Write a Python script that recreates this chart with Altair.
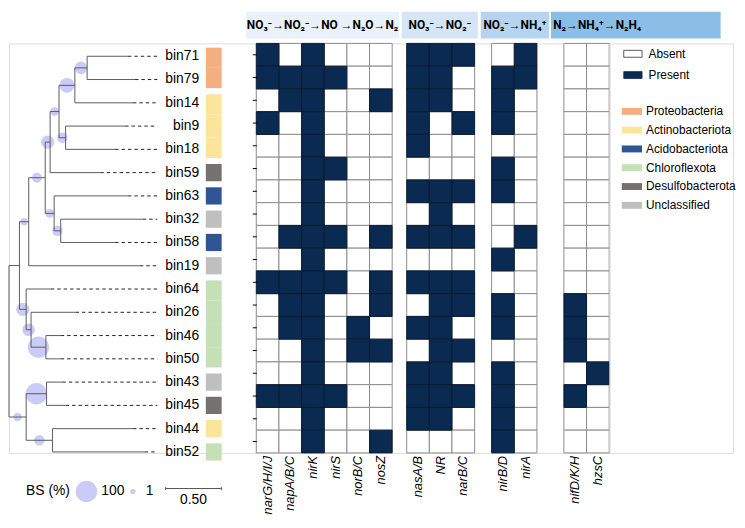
import altair as alt
import pandas as pd

# ---------------- data ----------------
bins = ["bin71", "bin79", "bin14", "bin9", "bin18", "bin59", "bin63", "bin32", "bin58",
        "bin19", "bin64", "bin26", "bin46", "bin50", "bin43", "bin45", "bin44", "bin52"]
bin_phylum = ["Proteobacteria", "Proteobacteria", "Actinobacteriota", "Actinobacteriota",
              "Actinobacteriota", "Desulfobacterota", "Acidobacteriota", "Unclassified",
              "Acidobacteriota", "Unclassified", "Chloroflexota", "Chloroflexota",
              "Chloroflexota", "Chloroflexota", "Unclassified", "Desulfobacterota",
              "Actinobacteriota", "Chloroflexota"]
phyla = ["Proteobacteria", "Actinobacteriota", "Acidobacteriota", "Chloroflexota",
         "Desulfobacterota", "Unclassified"]
phyla_colors = ["#f5ae80", "#fde49b", "#2f5597", "#c5e0b4", "#767171", "#bfbfbf"]

group_titles = ["NO₃⁻→NO₂⁻→NO →N₂O→N₂", "NO₃⁻→NO₂⁻", "NO₂⁻→NH₄⁺", "N₂→NH₄⁺→N₂H₄"]
group_genes = [["narG/H/I/J", "napA/B/C", "nirK", "nirS", "norB/C", "nosZ"],
               ["nasA/B", "NR", "narB/C"],
               ["nirB/D", "nirA"],
               ["nifD/K/H", "hzsC"]]
group_band_colors = ["#eaf1f9", "#d5e5f5", "#b6d4ef", "#8bbee7"]

# presence (1) / absence (0), one row per bin, genes in the order above
presence = [
    [1, 0, 1, 0, 0, 0, 1, 1, 1, 0, 1, 0, 0],  # bin71
    [1, 1, 1, 1, 0, 0, 1, 1, 0, 1, 1, 0, 0],  # bin79
    [0, 1, 1, 0, 0, 1, 1, 1, 0, 1, 0, 0, 0],  # bin14
    [1, 0, 1, 0, 0, 0, 1, 0, 1, 1, 0, 0, 0],  # bin9
    [0, 0, 1, 0, 0, 0, 1, 0, 0, 0, 0, 0, 0],  # bin18
    [0, 0, 1, 1, 0, 0, 0, 0, 0, 1, 0, 0, 0],  # bin59
    [0, 0, 1, 0, 0, 0, 1, 1, 1, 1, 0, 0, 0],  # bin63
    [0, 0, 1, 0, 0, 0, 0, 1, 0, 0, 0, 0, 0],  # bin32
    [0, 1, 1, 1, 0, 1, 1, 1, 1, 0, 1, 0, 0],  # bin58
    [0, 0, 1, 0, 0, 0, 0, 0, 0, 1, 0, 0, 0],  # bin19
    [1, 1, 1, 1, 0, 1, 1, 1, 1, 0, 0, 0, 0],  # bin64
    [0, 1, 1, 0, 0, 1, 0, 1, 1, 1, 0, 1, 0],  # bin26
    [0, 1, 1, 0, 1, 0, 1, 1, 0, 1, 0, 1, 0],  # bin46
    [0, 0, 1, 0, 1, 1, 0, 1, 1, 0, 0, 1, 0],  # bin50
    [0, 0, 1, 0, 0, 0, 1, 1, 0, 1, 0, 0, 1],  # bin43
    [1, 1, 1, 1, 0, 0, 1, 1, 1, 1, 0, 1, 0],  # bin45
    [0, 0, 1, 0, 0, 0, 1, 1, 0, 1, 0, 0, 0],  # bin44
    [0, 0, 1, 0, 0, 1, 0, 0, 0, 1, 0, 0, 0],  # bin52
]

# tree topology, node depth from the root (substitutions/site), bootstrap (%)
tree_children = {
    "root": ["J", "P"], "J": ["I", "K"], "I": ["H", "bin19"], "H": ["E", "G"],
    "E": ["D", "bin59"], "D": ["B", "C"], "B": ["A", "bin14"], "A": ["bin71", "bin79"],
    "C": ["bin9", "bin18"], "G": ["bin63", "F"], "F": ["bin32", "bin58"],
    "K": ["bin64", "M"], "M": ["bin26", "L"], "L": ["bin46", "bin50"],
    "P": ["N", "O"], "N": ["bin43", "bin45"], "O": ["bin44", "bin52"],
}
node_depth = {"root": 0.0, "J": 0.094, "I": 0.177, "H": 0.325, "E": 0.369, "D": 0.449,
              "B": 0.591, "A": 0.701, "C": 0.508, "G": 0.405, "F": 0.464, "K": 0.154,
              "M": 0.198, "L": 0.331, "P": 0.154, "N": 0.337, "O": 0.390}
tip_depth = {"bin71": 1.067, "bin79": 1.130, "bin14": 1.112, "bin9": 1.041, "bin18": 0.952,
             "bin59": 0.819, "bin63": 1.067, "bin32": 1.200, "bin58": 0.952, "bin19": 1.174,
             "bin64": 0.375, "bin26": 0.597, "bin46": 0.464, "bin50": 0.464, "bin43": 0.479,
             "bin45": 0.508, "bin44": 1.112, "bin52": 1.218}
bootstrap = {"A": 31, "B": 45, "C": 20, "D": 12, "E": 35, "F": 20, "G": 12, "H": 17,
             "I": 7, "K": 35, "M": 31, "L": 98, "N": 100, "O": 20, "P": 12}
bs_legend = [100, 1]
scale_bar_len = 0.5

# ---------------- layout constants ----------------
FONT = "Liberation Sans, Arial, DejaVu Sans, sans-serif"
HDR_FONT = "Roboto, Liberation Sans, DejaVu Sans, sans-serif"
NAVY = "#0a2a52"
TREE_C = "#5c5c5c"
BS_C = "#cbcbf8"
ROW = 23
NROW = len(bins)
HM_H = ROW * NROW
CELL = 22.9
HM_W = 357
TREE_W = 250
PX_UNIT = 112.7
LEG_W = 125
group_gaps = [0.64, 0.75, 1.19]
band_left = [-0.45, 6.42, 9.91, 13.01]
band_right = [6.30, 9.78, 12.93, 20.5]
dash_end = 1.331
scale_bar_start = 1.405
HDR_TOP, HDR_BOT = -32, -5

# ---------------- tree geometry ----------------
row_of = {b: i for i, b in enumerate(bins)}
depth = dict(node_depth)
depth.update(tip_depth)
parent = {c: p for p, cs in tree_children.items() for c in cs}


def node_y(n):
    if n in row_of:
        return float(row_of[n])
    ys = [node_y(c) for c in tree_children[n]]
    return sum(ys) / len(ys)


hrz, vrt, circ = [], [], []
for p, cs in tree_children.items():
    ys = [node_y(c) for c in cs]
    vrt.append({"x": depth[p], "y0": min(ys), "y1": max(ys)})
    for c in cs:
        hrz.append({"x0": depth[p], "x1": depth[c], "y": node_y(c)})
for n, bs in bootstrap.items():
    circ.append({"cx": (depth[parent[n]] + depth[n]) / 2, "cy": node_y(n), "bs": bs})
dashes = pd.DataFrame({"x0": [tip_depth[b] for b in bins], "x1": dash_end,
                       "y": [float(row_of[b]) for b in bins]})

gap = 0.13
bars = []
for i, b in enumerate(bins):
    ph = bin_phylum[i]
    top = i - 0.5 + (gap if i == 0 or bin_phylum[i - 1] != ph else 0)
    bot = i + 0.5 - (gap if i == NROW - 1 or bin_phylum[i + 1] != ph else 0)
    bars.append({"bin": b, "phylum": ph, "top": top, "bot": bot})

xs_t = alt.Scale(domain=[0, TREE_W / PX_UNIT], nice=False, zero=False)
ys_t = alt.Scale(domain=[0, NROW - 1], range=[13, 413], nice=False, zero=False)
size_s = alt.Scale(domain=[1, 100], range=[28, 470])

t_circ = alt.Chart(pd.DataFrame(circ)).mark_point(
    filled=True, shape="circle", color=BS_C, opacity=1, strokeWidth=0).encode(
    x=alt.X("cx:Q", scale=xs_t, axis=None), y=alt.Y("cy:Q", scale=ys_t, axis=None),
    size=alt.Size("bs:Q", scale=size_s, legend=None))
t_v = alt.Chart(pd.DataFrame(vrt)).mark_rule(color=TREE_C, strokeWidth=1).encode(
    x=alt.X("x:Q", scale=xs_t, axis=None), y=alt.Y("y0:Q", scale=ys_t, axis=None), y2="y1:Q")
t_h = alt.Chart(pd.DataFrame(hrz)).mark_rule(color=TREE_C, strokeWidth=1).encode(
    x=alt.X("x0:Q", scale=xs_t, axis=None), x2="x1:Q", y=alt.Y("y:Q", scale=ys_t, axis=None))
t_d = alt.Chart(dashes).mark_rule(color="#222222", strokeWidth=1, strokeDash=[3.5, 3]).encode(
    x=alt.X("x0:Q", scale=xs_t, axis=None), x2="x1:Q", y=alt.Y("y:Q", scale=ys_t, axis=None))
t_lab = alt.Chart(pd.DataFrame({"bin": bins, "row": list(range(NROW))})).mark_text(
    align="right", baseline="middle", fontSize=14, color="black").encode(
    x=alt.value(192.3), y=alt.Y("row:Q", scale=ys_t, axis=None), text="bin:N")
t_bar = alt.Chart(pd.DataFrame(bars)).mark_rect().encode(
    x=alt.value(199), x2=alt.value(215),
    y=alt.Y("top:Q", scale=ys_t, axis=None), y2="bot:Q",
    color=alt.Color("phylum:N", scale=alt.Scale(domain=phyla, range=phyla_colors), legend=None))

BS_Y = 453
bs_df = pd.DataFrame({"bs": bs_legend, "lab": [str(v) for v in bs_legend]})
t_bs_title = alt.Chart(pd.DataFrame({"t": ["BS (%)"]})).mark_text(
    align="left", baseline="middle", fontSize=14).encode(
    x=alt.value(17.3), y=alt.value(BS_Y), text="t:N")
t_bs_big = alt.Chart(bs_df.iloc[[0]]).mark_point(
    filled=True, shape="circle", color=BS_C, opacity=1, strokeWidth=0).encode(
    x=alt.value(78.3), y=alt.value(BS_Y), size=alt.Size("bs:Q", scale=size_s, legend=None))
t_bs_big_t = alt.Chart(bs_df.iloc[[0]]).mark_text(
    align="left", baseline="middle", fontSize=14).encode(
    x=alt.value(93.3), y=alt.value(BS_Y), text="lab:N")
t_bs_small = alt.Chart(bs_df.iloc[[1]]).mark_point(
    filled=True, shape="circle", color=BS_C, opacity=1, strokeWidth=0).encode(
    x=alt.value(125.3), y=alt.value(BS_Y), size=alt.Size("bs:Q", scale=size_s, legend=None))
t_bs_small_t = alt.Chart(bs_df.iloc[[1]]).mark_text(
    align="left", baseline="middle", fontSize=14).encode(
    x=alt.value(138.3), y=alt.value(BS_Y), text="lab:N")
sb = pd.DataFrame({"x0": [scale_bar_start], "x1": [scale_bar_start + scale_bar_len],
                   "xm": [scale_bar_start + scale_bar_len / 2],
                   "lab": [f"{scale_bar_len:.2f}"]})
sb_ends = pd.DataFrame({"x": [scale_bar_start, scale_bar_start + scale_bar_len]})
t_sb = alt.Chart(sb).mark_rule(color="#555555", strokeWidth=1).encode(
    x=alt.X("x0:Q", scale=xs_t, axis=None), x2="x1:Q", y=alt.value(BS_Y - 3))
t_sb_e = alt.Chart(sb_ends).mark_rule(color="#555555", strokeWidth=1).encode(
    x=alt.X("x:Q", scale=xs_t, axis=None), y=alt.value(BS_Y - 4.5), y2=alt.value(BS_Y - 1.5))
t_sb_t = alt.Chart(sb).mark_text(align="center", baseline="middle", fontSize=14).encode(
    x=alt.X("xm:Q", scale=xs_t, axis=None), y=alt.value(BS_Y + 9), text="lab:N")

tree = alt.layer(t_circ, t_v, t_h, t_d, t_lab, t_bar, t_bs_title, t_bs_big, t_bs_big_t,
                 t_bs_small, t_bs_small_t, t_sb, t_sb_e, t_sb_t).properties(
    width=TREE_W, height=HM_H)

# ---------------- heatmap ----------------
starts = [0.0]
for g in range(len(group_genes) - 1):
    starts.append(starts[-1] + len(group_genes[g]) + group_gaps[g])
genes, gx = [], []
for g, gl in enumerate(group_genes):
    for j, gname in enumerate(gl):
        genes.append(gname)
        gx.append(starts[g] + j)

cell_rows = []
for i, b in enumerate(bins):
    for k, gname in enumerate(genes):
        cell_rows.append({"bin": b, "gene": gname, "x0": gx[k], "x1": gx[k] + 1,
                          "present": presence[i][k]})
cells = pd.DataFrame(cell_rows)

xs_h = alt.Scale(domain=[0, HM_W / CELL], nice=False, zero=False)
y_h = alt.Y("bin:N", sort=bins, scale=alt.Scale(domain=bins, paddingInner=0, paddingOuter=0),
            axis=alt.Axis(title=None, labels=False, domain=False, ticks=True, tickSize=4,
                          tickColor="black", tickWidth=1, grid=False))

h_abs = alt.Chart(cells[cells.present == 0]).mark_rect(
    fill="white", stroke="#8c8c8c", strokeWidth=1).encode(
    x=alt.X("x0:Q", scale=xs_h, axis=None), x2="x1:Q", y=y_h)
h_pre = alt.Chart(cells[cells.present == 1]).mark_rect(
    fill=NAVY, stroke="#0b1a30", strokeWidth=1).encode(
    x=alt.X("x0:Q", scale=xs_h, axis=None), x2="x1:Q", y=y_h)

hdr = pd.DataFrame({"title": group_titles, "b0": band_left, "b1": band_right,
                    "color": group_band_colors,
                    "tc": [(a + c) / 2 for a, c in zip(band_left, band_right)],
                    "tl": [a + 0.1 for a in band_left]})
h_band = alt.Chart(hdr).mark_rect().encode(
    x=alt.X("b0:Q", scale=xs_h, axis=None), x2="b1:Q",
    y=alt.value(HDR_TOP), y2=alt.value(HDR_BOT), fill=alt.Fill("color:N", scale=None))
h_tc = alt.Chart(hdr.iloc[:3]).mark_text(
    align="center", baseline="middle", fontSize=12, fontWeight="bold", color="black",
    font=HDR_FONT).encode(
    x=alt.X("tc:Q", scale=xs_h, axis=None), y=alt.value((HDR_TOP + HDR_BOT) / 2),
    text="title:N")
h_tl = alt.Chart(hdr.iloc[3:]).mark_text(
    align="left", baseline="middle", fontSize=12, fontWeight="bold", color="black",
    font=HDR_FONT).encode(
    x=alt.X("tl:Q", scale=xs_h, axis=None), y=alt.value((HDR_TOP + HDR_BOT) / 2),
    text="title:N")

gl_df = pd.DataFrame({"gene": genes, "xc": [v + 0.5 for v in gx]})
h_gl = alt.Chart(gl_df).mark_text(
    angle=270, align="right", baseline="middle", fontSize=13, fontStyle="italic",
    color="black").encode(
    x=alt.X("xc:Q", scale=xs_h, axis=None), y=alt.value(HM_H + 3), text="gene:N")

heat = alt.layer(h_band, h_tc, h_tl, h_abs, h_pre, h_gl).properties(width=HM_W, height=HM_H)

# ---------------- legend ----------------
ys_l = alt.Scale(domain=[0, HM_H], range=[0, HM_H], nice=False, zero=False)
pres_leg = pd.DataFrame({"label": ["Absent", "Present"], "fill": ["white", NAVY],
                         "stroke": ["#333333", NAVY], "pos": [10.5, 32.0]})
pres_leg["y0"] = pres_leg.pos - 3.5
pres_leg["y1"] = pres_leg.pos + 3.5
phy_leg = pd.DataFrame({"label": phyla, "fill": phyla_colors,
                        "pos": [68.7 + 19.0 * i for i in range(len(phyla))]})
phy_leg["y0"] = phy_leg.pos - 3.5
phy_leg["y1"] = phy_leg.pos + 3.5

l_ps = alt.Chart(pres_leg).mark_rect(strokeWidth=0.8).encode(
    x=alt.value(14.5), x2=alt.value(33),
    y=alt.Y("y0:Q", scale=ys_l, axis=None), y2="y1:Q",
    fill=alt.Fill("fill:N", scale=None), stroke=alt.Stroke("stroke:N", scale=None))
l_pt = alt.Chart(pres_leg).mark_text(align="left", baseline="middle", fontSize=12).encode(
    x=alt.value(39.5), y=alt.Y("pos:Q", scale=ys_l, axis=None), text="label:N")
l_hs = alt.Chart(phy_leg).mark_rect().encode(
    x=alt.value(12.5), x2=alt.value(33),
    y=alt.Y("y0:Q", scale=ys_l, axis=None), y2="y1:Q",
    fill=alt.Fill("fill:N", scale=None))
l_ht = alt.Chart(phy_leg).mark_text(align="left", baseline="middle", fontSize=12).encode(
    x=alt.value(37), y=alt.Y("pos:Q", scale=ys_l, axis=None), text="label:N")
legend = alt.layer(l_ps, l_pt, l_hs, l_ht).properties(width=LEG_W, height=HM_H)

chart = alt.hconcat(tree, heat, legend, spacing=0, bounds="flush").properties(
    padding=0
).configure_view(stroke=None).configure(font=FONT)

chart.save("out.html", embed_options={"renderer": "svg", "actions": False})
